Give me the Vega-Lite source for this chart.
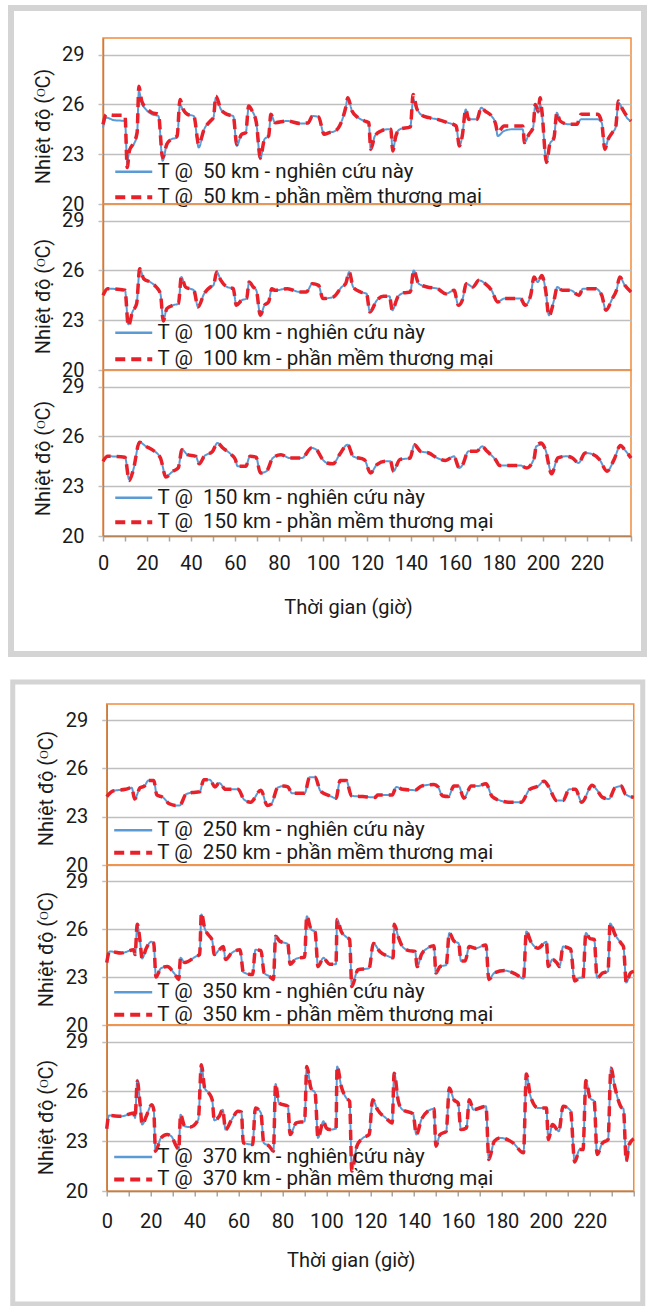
{
"$schema": "https://vega.github.io/schema/vega-lite/v6.json",
"autosize": {"type": "pad"},
"padding": {"left": 8, "top": 5, "right": 0, "bottom": 0},
"background": "white",
"config": {
  "font": "Roboto",
  "view": {"stroke": "#f28c3c", "strokeWidth": 1.5},
  "axis": {"labelFont": "Roboto", "labelFontSize": 20, "labelColor": "#1a1a1a", "titleFont": "Roboto", "titleFontSize": 20, "titleFontWeight": "normal", "titleColor": "#1a1a1a", "domainColor": "#b5835a", "domainWidth": 1.5, "tickWidth": 1.5, "tickSize": 5},
  "axisY": {"grid": true, "gridColor": "#bfbfbf", "gridWidth": 1.5, "tickColor": "#bfbfbf", "labelPadding": 14},
  "axisX": {"grid": false, "tickColor": "#a6a6a6", "labelFlush": false, "labelOverlap": false},
  "legend": {"orient": "none", "symbolType": "stroke", "symbolStrokeWidth": 3, "labelFont": "Roboto", "labelFontSize": 20.5, "labelColor": "#1a1a1a", "labelLimit": 400, "padding": 0}
},
"datasets": {
"d50": [
{"t":0,"a":24.6,"b":24.8},{"t":1.5,"a":25.2,"b":25.4},{"t":5,"a":25.05,"b":25.35},{"t":10,"a":25.0,"b":25.35},{"t":11,"a":22.5,"b":22.2},{"t":12,"a":23.3,"b":23.2},{"t":14,"a":23.6,"b":23.7},{"t":15.5,"a":24.2,"b":24.3},{"t":16.3,"a":26.8,"b":27.1},{"t":17.6,"a":26.1,"b":26.2},{"t":19.5,"a":25.7,"b":25.8},{"t":22.3,"a":25.4,"b":25.5},{"t":25.2,"a":25.3,"b":25.4},{"t":27.1,"a":22.6,"b":22.8},{"t":29,"a":23.6,"b":23.6},{"t":31,"a":23.9,"b":23.9},{"t":33.7,"a":24.0,"b":24.1},{"t":35,"a":26.0,"b":26.3},{"t":36.5,"a":25.6,"b":25.7},{"t":38.4,"a":25.4,"b":25.4},{"t":41.3,"a":25.3,"b":25.3},{"t":43.5,"a":23.4,"b":23.6},{"t":46,"a":24.5,"b":24.5},{"t":48.8,"a":25.0,"b":25.0},{"t":50.2,"a":25.2,"b":25.2},{"t":51.3,"a":26.4,"b":26.5},{"t":53.6,"a":25.7,"b":25.7},{"t":56.4,"a":25.4,"b":25.4},{"t":59.2,"a":25.3,"b":25.3},{"t":60.8,"a":23.5,"b":23.6},{"t":63,"a":24.2,"b":24.2},{"t":64.9,"a":24.3,"b":24.3},{"t":66.2,"a":25.8,"b":25.9},{"t":67.8,"a":25.6,"b":25.6},{"t":69.7,"a":24.9,"b":24.9},{"t":71.5,"a":22.7,"b":22.8},{"t":73.4,"a":23.9,"b":23.9},{"t":75.3,"a":24.1,"b":24.1},{"t":76.3,"a":25.4,"b":25.4},{"t":78.2,"a":24.9,"b":24.9},{"t":83.8,"a":25.0,"b":25.0},{"t":89.5,"a":24.85,"b":24.85},{"t":93.3,"a":24.85,"b":24.9},{"t":95.2,"a":25.3,"b":25.3},{"t":98,"a":25.25,"b":25.25},{"t":100.5,"a":24.2,"b":24.2},{"t":102.8,"a":24.3,"b":24.3},{"t":105.6,"a":24.4,"b":24.4},{"t":110.3,"a":25.8,"b":25.8},{"t":111.3,"a":26.4,"b":26.4},{"t":113.2,"a":25.6,"b":25.6},{"t":116,"a":25.2,"b":25.2},{"t":118.9,"a":25.0,"b":25.0},{"t":120.8,"a":24.9,"b":24.9},{"t":121.7,"a":23.3,"b":23.3},{"t":123.6,"a":24.1,"b":24.1},{"t":126.4,"a":24.4,"b":24.4},{"t":129.3,"a":24.5,"b":24.5},{"t":130.8,"a":24.5,"b":24.5},{"t":131.7,"a":23.2,"b":23.2},{"t":133.1,"a":24.1,"b":24.1},{"t":134.9,"a":24.5,"b":24.5},{"t":139.7,"a":24.65,"b":24.65},{"t":141,"a":26.3,"b":26.6},{"t":142.5,"a":25.8,"b":25.8},{"t":144.4,"a":25.4,"b":25.4},{"t":148.2,"a":25.2,"b":25.2},{"t":152,"a":25.1,"b":25.1},{"t":156.7,"a":24.9,"b":24.9},{"t":160.5,"a":24.7,"b":24.7},{"t":162,"a":23.5,"b":23.5},{"t":163.3,"a":24.1,"b":24.1},{"t":164.9,"a":25.7,"b":25.7},{"t":166.2,"a":25.1,"b":25.1},{"t":170,"a":25.1,"b":25.1},{"t":171.9,"a":25.8,"b":25.8},{"t":173.7,"a":25.6,"b":25.6},{"t":176.6,"a":25.3,"b":25.3},{"t":178.5,"a":24.8,"b":24.8},{"t":179.4,"a":24.1,"b":24.3},{"t":182.3,"a":24.4,"b":24.7},{"t":186.1,"a":24.5,"b":24.7},{"t":190.8,"a":24.5,"b":24.7},{"t":191.6,"a":23.7,"b":23.7},{"t":193.6,"a":24.2,"b":24.2},{"t":195.5,"a":24.6,"b":24.6},{"t":196.5,"a":26.0,"b":26.0},{"t":197.8,"a":25.5,"b":25.6},{"t":198.7,"a":26.0,"b":26.4},{"t":199.5,"a":25.4,"b":25.6},{"t":201.6,"a":22.5,"b":22.5},{"t":203.1,"a":23.6,"b":23.6},{"t":205,"a":24.0,"b":24.0},{"t":206.3,"a":25.5,"b":25.5},{"t":207.8,"a":25.0,"b":25.0},{"t":211.6,"a":24.8,"b":24.8},{"t":215.4,"a":24.8,"b":24.8},{"t":217.3,"a":25.1,"b":25.4},{"t":224.9,"a":25.1,"b":25.4},{"t":226.7,"a":24.9,"b":24.9},{"t":228.1,"a":23.3,"b":23.3},{"t":229.6,"a":23.9,"b":23.9},{"t":231.5,"a":24.3,"b":24.3},{"t":233,"a":24.6,"b":24.6},{"t":234.3,"a":26.1,"b":26.2},{"t":236.2,"a":25.7,"b":25.7},{"t":238.1,"a":25.2,"b":25.3},{"t":240,"a":25.0,"b":25.0}
],
"d100": [
{"t":0,"a":24.5,"b":24.5},{"t":2.1,"a":24.9,"b":24.9},{"t":10,"a":24.8,"b":24.8},{"t":11.5,"a":22.75,"b":22.65},{"t":13.4,"a":23.5,"b":23.5},{"t":15.3,"a":24.0,"b":24.0},{"t":16.7,"a":26.1,"b":26.1},{"t":18.5,"a":25.5,"b":25.5},{"t":21.4,"a":25.3,"b":25.3},{"t":24.2,"a":25.0,"b":25.0},{"t":26.1,"a":24.6,"b":24.6},{"t":27.4,"a":23.0,"b":22.95},{"t":29,"a":23.7,"b":23.7},{"t":31.8,"a":23.9,"b":23.9},{"t":34.3,"a":24.0,"b":24.0},{"t":35.6,"a":25.6,"b":25.6},{"t":37.5,"a":25.0,"b":25.0},{"t":41.3,"a":24.8,"b":24.8},{"t":43.2,"a":23.8,"b":23.8},{"t":46,"a":24.6,"b":24.6},{"t":48.8,"a":25.0,"b":25.0},{"t":50.2,"a":25.1,"b":25.1},{"t":51.7,"a":25.9,"b":25.9},{"t":53.6,"a":25.4,"b":25.4},{"t":56.4,"a":25.0,"b":25.0},{"t":59.2,"a":24.9,"b":24.9},{"t":60.6,"a":23.9,"b":23.9},{"t":63,"a":24.2,"b":24.2},{"t":65.3,"a":24.3,"b":24.3},{"t":66.4,"a":25.3,"b":25.3},{"t":68.3,"a":25.0,"b":25.0},{"t":69.7,"a":24.8,"b":24.8},{"t":71.5,"a":23.3,"b":23.3},{"t":73.4,"a":23.9,"b":23.9},{"t":75.3,"a":24.1,"b":24.1},{"t":76.7,"a":24.9,"b":24.9},{"t":78.2,"a":24.8,"b":24.8},{"t":83.8,"a":24.9,"b":24.9},{"t":89.5,"a":24.7,"b":24.7},{"t":92.4,"a":24.7,"b":24.7},{"t":95.2,"a":25.2,"b":25.2},{"t":98,"a":25.1,"b":25.1},{"t":99.9,"a":24.3,"b":24.3},{"t":104.7,"a":24.4,"b":24.4},{"t":108.5,"a":25.0,"b":25.0},{"t":110.3,"a":25.2,"b":25.2},{"t":111.9,"a":25.9,"b":25.9},{"t":113.7,"a":25.0,"b":25.0},{"t":117,"a":24.7,"b":24.7},{"t":119.8,"a":24.6,"b":24.6},{"t":121.3,"a":23.5,"b":23.5},{"t":124.5,"a":24.2,"b":24.2},{"t":127.4,"a":24.45,"b":24.45},{"t":130.2,"a":24.45,"b":24.45},{"t":131.5,"a":23.6,"b":23.6},{"t":134,"a":24.4,"b":24.4},{"t":136.8,"a":24.65,"b":24.65},{"t":139.7,"a":24.7,"b":24.7},{"t":141.2,"a":26.0,"b":26.0},{"t":143.5,"a":25.2,"b":25.2},{"t":147.3,"a":25.0,"b":25.0},{"t":152,"a":24.9,"b":24.9},{"t":155.8,"a":24.6,"b":24.6},{"t":159.6,"a":24.8,"b":24.8},{"t":161.5,"a":23.9,"b":23.9},{"t":163.3,"a":24.2,"b":24.2},{"t":165.2,"a":25.2,"b":25.2},{"t":168.1,"a":25.0,"b":25.0},{"t":170.9,"a":25.4,"b":25.4},{"t":173.7,"a":25.2,"b":25.2},{"t":176.6,"a":24.8,"b":24.8},{"t":179.4,"a":24.1,"b":24.1},{"t":182.3,"a":24.3,"b":24.3},{"t":189.8,"a":24.3,"b":24.3},{"t":191.9,"a":23.9,"b":23.9},{"t":194.4,"a":24.5,"b":24.5},{"t":195.9,"a":25.6,"b":25.6},{"t":197.6,"a":25.3,"b":25.3},{"t":199.5,"a":25.7,"b":25.7},{"t":201.2,"a":24.8,"b":24.8},{"t":202.7,"a":23.3,"b":23.25},{"t":205,"a":24.2,"b":24.2},{"t":206.5,"a":25.0,"b":25.0},{"t":208.8,"a":24.8,"b":24.8},{"t":212.6,"a":24.8,"b":24.8},{"t":216.3,"a":24.5,"b":24.5},{"t":218.2,"a":24.9,"b":24.9},{"t":223.9,"a":24.9,"b":24.9},{"t":226.7,"a":24.5,"b":24.5},{"t":228.6,"a":23.6,"b":23.6},{"t":231.5,"a":24.3,"b":24.3},{"t":233.4,"a":24.8,"b":24.8},{"t":234.9,"a":25.6,"b":25.6},{"t":237.2,"a":25.1,"b":25.1},{"t":240,"a":24.7,"b":24.7}
],
"d150": [
{"t":0,"a":24.5,"b":24.5},{"t":2.1,"a":24.8,"b":24.8},{"t":10,"a":24.75,"b":24.75},{"t":11.9,"a":23.4,"b":23.35},{"t":13.8,"a":24.0,"b":24.0},{"t":16.6,"a":25.65,"b":25.65},{"t":19.5,"a":25.4,"b":25.4},{"t":22.3,"a":25.2,"b":25.2},{"t":26.1,"a":24.7,"b":24.7},{"t":28.6,"a":23.6,"b":23.55},{"t":31.8,"a":23.9,"b":23.9},{"t":34.2,"a":24.1,"b":24.1},{"t":35.9,"a":25.2,"b":25.2},{"t":38.4,"a":24.9,"b":24.9},{"t":42.2,"a":24.8,"b":24.8},{"t":43.7,"a":24.35,"b":24.35},{"t":46,"a":24.8,"b":24.8},{"t":49.8,"a":25.1,"b":25.1},{"t":52,"a":25.6,"b":25.6},{"t":54.5,"a":25.3,"b":25.3},{"t":58.3,"a":24.9,"b":24.9},{"t":60.2,"a":24.6,"b":24.6},{"t":61.1,"a":24.2,"b":24.2},{"t":64.9,"a":24.2,"b":24.2},{"t":66.8,"a":24.8,"b":24.8},{"t":69.6,"a":24.75,"b":24.75},{"t":71.5,"a":23.8,"b":23.8},{"t":74.3,"a":23.9,"b":23.9},{"t":77.2,"a":24.7,"b":24.7},{"t":80.9,"a":24.9,"b":24.9},{"t":84.8,"a":24.7,"b":24.7},{"t":90.4,"a":24.7,"b":24.7},{"t":94.8,"a":25.3,"b":25.3},{"t":97,"a":25.2,"b":25.2},{"t":99.9,"a":24.6,"b":24.6},{"t":101.8,"a":24.4,"b":24.4},{"t":104.6,"a":24.35,"b":24.35},{"t":107.5,"a":24.9,"b":24.9},{"t":111.2,"a":25.5,"b":25.5},{"t":113.7,"a":24.8,"b":24.8},{"t":118.8,"a":24.6,"b":24.6},{"t":121.6,"a":23.8,"b":23.8},{"t":124.5,"a":24.3,"b":24.3},{"t":128.3,"a":24.5,"b":24.5},{"t":130.7,"a":24.5,"b":24.5},{"t":132,"a":23.9,"b":23.9},{"t":134.9,"a":24.6,"b":24.6},{"t":139.6,"a":24.7,"b":24.7},{"t":141.5,"a":25.5,"b":25.5},{"t":144.3,"a":25.1,"b":25.1},{"t":148.1,"a":25.0,"b":25.0},{"t":151.9,"a":24.7,"b":24.7},{"t":155.7,"a":24.55,"b":24.55},{"t":159.5,"a":24.8,"b":24.8},{"t":161.9,"a":24.1,"b":24.1},{"t":163.3,"a":24.25,"b":24.25},{"t":166.1,"a":25.1,"b":25.1},{"t":169.9,"a":25.1,"b":25.1},{"t":172.3,"a":25.4,"b":25.4},{"t":174.6,"a":25.1,"b":25.1},{"t":178.4,"a":24.6,"b":24.6},{"t":180.3,"a":24.25,"b":24.25},{"t":189.7,"a":24.25,"b":24.25},{"t":192.6,"a":24.1,"b":24.1},{"t":196,"a":24.7,"b":24.7},{"t":196.9,"a":25.4,"b":25.4},{"t":199.2,"a":25.5,"b":25.6},{"t":201.1,"a":25.2,"b":25.2},{"t":203.9,"a":23.8,"b":23.75},{"t":206.8,"a":24.7,"b":24.7},{"t":210.5,"a":24.8,"b":24.8},{"t":213.4,"a":24.7,"b":24.7},{"t":216.2,"a":24.4,"b":24.4},{"t":219.1,"a":25.0,"b":25.0},{"t":221.9,"a":24.95,"b":24.95},{"t":225.7,"a":24.6,"b":24.6},{"t":229.1,"a":23.9,"b":23.9},{"t":232.3,"a":24.6,"b":24.6},{"t":235.2,"a":25.45,"b":25.45},{"t":237.1,"a":25.2,"b":25.2},{"t":240,"a":24.7,"b":24.7}
],
"d250": [
{"t":0,"a":24.25,"b":24.25},{"t":2.8,"a":24.6,"b":24.6},{"t":8.5,"a":24.7,"b":24.7},{"t":11.4,"a":24.8,"b":24.8},{"t":12.7,"a":24.1,"b":24.1},{"t":15.2,"a":24.8,"b":24.8},{"t":17.1,"a":24.9,"b":24.9},{"t":19,"a":25.25,"b":25.25},{"t":21.4,"a":25.25,"b":25.25},{"t":22.8,"a":24.35,"b":24.35},{"t":25.6,"a":24.2,"b":24.2},{"t":28.5,"a":23.8,"b":23.8},{"t":31.3,"a":23.7,"b":23.7},{"t":33.2,"a":23.7,"b":23.7},{"t":36.1,"a":24.4,"b":24.4},{"t":38.9,"a":24.5,"b":24.5},{"t":42.3,"a":24.55,"b":24.55},{"t":44.2,"a":25.3,"b":25.3},{"t":46.9,"a":25.3,"b":25.3},{"t":49.3,"a":24.85,"b":24.85},{"t":51.2,"a":25.1,"b":25.1},{"t":54.1,"a":24.7,"b":24.7},{"t":59.8,"a":24.7,"b":24.7},{"t":62.6,"a":24.05,"b":24.05},{"t":65.5,"a":23.9,"b":23.9},{"t":70.2,"a":24.65,"b":24.65},{"t":73.1,"a":23.7,"b":23.7},{"t":75,"a":23.8,"b":23.8},{"t":77.8,"a":24.8,"b":24.8},{"t":80.6,"a":24.9,"b":24.9},{"t":82.5,"a":24.85,"b":24.85},{"t":84.4,"a":24.45,"b":24.45},{"t":90.1,"a":24.45,"b":24.45},{"t":92.4,"a":25.45,"b":25.45},{"t":94.9,"a":25.45,"b":25.45},{"t":97.3,"a":24.6,"b":24.6},{"t":101.5,"a":24.3,"b":24.3},{"t":104.4,"a":24.15,"b":24.15},{"t":106.3,"a":25.25,"b":25.25},{"t":109.1,"a":25.25,"b":25.25},{"t":111.4,"a":24.3,"b":24.3},{"t":116.7,"a":24.25,"b":24.25},{"t":122.4,"a":24.2,"b":24.2},{"t":123.3,"a":24.35,"b":24.35},{"t":130,"a":24.35,"b":24.35},{"t":131.9,"a":24.85,"b":24.85},{"t":134.7,"a":24.7,"b":24.7},{"t":140.4,"a":24.65,"b":24.65},{"t":143.3,"a":24.9,"b":24.9},{"t":149,"a":25.0,"b":25.0},{"t":150.9,"a":24.85,"b":24.85},{"t":152.8,"a":24.3,"b":24.3},{"t":155.6,"a":24.25,"b":24.25},{"t":158.1,"a":24.9,"b":24.9},{"t":160.3,"a":24.9,"b":24.9},{"t":162.6,"a":24.15,"b":24.15},{"t":166,"a":24.9,"b":24.9},{"t":168.9,"a":24.9,"b":24.9},{"t":172.7,"a":25.05,"b":25.05},{"t":175.5,"a":24.25,"b":24.25},{"t":179.3,"a":24.0,"b":24.0},{"t":183.1,"a":23.9,"b":23.9},{"t":188.8,"a":23.9,"b":23.9},{"t":192.6,"a":24.7,"b":24.7},{"t":196.4,"a":24.9,"b":24.9},{"t":199.2,"a":25.2,"b":25.2},{"t":201.1,"a":24.9,"b":24.9},{"t":204.9,"a":24.0,"b":24.0},{"t":207.8,"a":24.0,"b":24.0},{"t":210.6,"a":24.7,"b":24.7},{"t":213.5,"a":24.7,"b":24.7},{"t":216.3,"a":23.9,"b":23.9},{"t":221.1,"a":24.95,"b":24.95},{"t":223,"a":24.7,"b":24.7},{"t":225.8,"a":24.2,"b":24.2},{"t":228.7,"a":24.1,"b":24.1},{"t":231.5,"a":24.8,"b":24.8},{"t":234.3,"a":24.9,"b":24.9},{"t":236.2,"a":24.4,"b":24.4},{"t":240,"a":24.2,"b":24.2}
],
"d350": [
{"t":0,"a":23.9,"b":23.9},{"t":1.3,"a":24.6,"b":24.6},{"t":6.6,"a":24.5,"b":24.5},{"t":12.3,"a":24.7,"b":24.7},{"t":12.9,"a":24.4,"b":24.4},{"t":13.9,"a":26.2,"b":26.3},{"t":15.2,"a":25.2,"b":25.2},{"t":16.1,"a":24.15,"b":24.15},{"t":18,"a":24.8,"b":24.8},{"t":20.3,"a":25.2,"b":25.2},{"t":21.4,"a":25.1,"b":25.1},{"t":22.4,"a":23.0,"b":23.0},{"t":24.7,"a":23.55,"b":23.55},{"t":27.5,"a":23.65,"b":23.65},{"t":30.9,"a":23.2,"b":23.2},{"t":32.8,"a":22.9,"b":22.85},{"t":33.6,"a":24.2,"b":24.2},{"t":35.5,"a":23.9,"b":23.9},{"t":40.8,"a":24.3,"b":24.3},{"t":42.3,"a":24.4,"b":24.4},{"t":43.1,"a":26.9,"b":27.0},{"t":44.6,"a":26.05,"b":26.05},{"t":46.5,"a":25.6,"b":25.6},{"t":48,"a":25.3,"b":25.3},{"t":49,"a":24.4,"b":24.4},{"t":51.2,"a":24.7,"b":24.7},{"t":53.1,"a":24.9,"b":24.9},{"t":54.1,"a":24.1,"b":24.1},{"t":56.9,"a":24.5,"b":24.5},{"t":60.7,"a":24.7,"b":24.7},{"t":62.2,"a":23.3,"b":23.3},{"t":66.4,"a":23.15,"b":23.15},{"t":67.7,"a":24.7,"b":24.7},{"t":70.2,"a":24.65,"b":24.65},{"t":71.7,"a":23.25,"b":23.25},{"t":74,"a":23.05,"b":23.05},{"t":75.9,"a":22.85,"b":22.85},{"t":76.9,"a":25.55,"b":25.55},{"t":78.7,"a":25.25,"b":25.25},{"t":82.5,"a":25.05,"b":25.05},{"t":83.5,"a":23.8,"b":23.8},{"t":86.3,"a":24.15,"b":24.15},{"t":90.1,"a":24.25,"b":24.25},{"t":91.1,"a":26.8,"b":26.8},{"t":93,"a":26.0,"b":26.0},{"t":94.9,"a":25.8,"b":25.8},{"t":96.2,"a":23.65,"b":23.65},{"t":98.7,"a":24.2,"b":24.2},{"t":100,"a":24.0,"b":24.0},{"t":101.5,"a":23.8,"b":23.8},{"t":104.4,"a":23.8,"b":23.8},{"t":104.9,"a":26.6,"b":26.6},{"t":106.8,"a":25.85,"b":25.85},{"t":109.1,"a":25.5,"b":25.5},{"t":110.6,"a":25.35,"b":25.35},{"t":111.6,"a":22.5,"b":22.4},{"t":114.4,"a":23.45,"b":23.45},{"t":119.5,"a":23.55,"b":23.55},{"t":121.4,"a":25.1,"b":25.1},{"t":124.3,"a":24.6,"b":24.6},{"t":128.1,"a":24.3,"b":24.3},{"t":130.4,"a":24.2,"b":24.2},{"t":130.9,"a":26.3,"b":26.3},{"t":132.8,"a":25.5,"b":25.5},{"t":134.7,"a":24.9,"b":24.9},{"t":137.6,"a":24.65,"b":24.65},{"t":140.4,"a":24.6,"b":24.6},{"t":141.4,"a":23.65,"b":23.65},{"t":143.3,"a":24.4,"b":24.4},{"t":146.1,"a":24.8,"b":24.8},{"t":149,"a":24.95,"b":24.95},{"t":149.9,"a":23.25,"b":23.25},{"t":151.8,"a":23.65,"b":23.65},{"t":154.6,"a":23.75,"b":23.75},{"t":156,"a":25.75,"b":25.75},{"t":158.1,"a":25.25,"b":25.25},{"t":160.3,"a":25.1,"b":25.1},{"t":161.3,"a":24.0,"b":24.0},{"t":163.2,"a":24.0,"b":24.0},{"t":165.1,"a":24.9,"b":24.9},{"t":167.9,"a":24.8,"b":24.8},{"t":172.7,"a":25.0,"b":25.0},{"t":174,"a":22.85,"b":22.85},{"t":176.5,"a":23.25,"b":23.25},{"t":181.2,"a":23.4,"b":23.4},{"t":186,"a":23.2,"b":23.2},{"t":189.8,"a":22.9,"b":22.9},{"t":191.1,"a":25.85,"b":25.85},{"t":193,"a":25.25,"b":25.25},{"t":196.4,"a":24.8,"b":24.8},{"t":200.2,"a":25.2,"b":25.2},{"t":201.1,"a":23.65,"b":23.65},{"t":203,"a":24.1,"b":24.1},{"t":204.9,"a":23.9,"b":23.9},{"t":206.2,"a":23.65,"b":23.65},{"t":207.8,"a":24.9,"b":24.9},{"t":211.2,"a":24.75,"b":24.75},{"t":213.1,"a":22.75,"b":22.75},{"t":215.4,"a":22.95,"b":22.95},{"t":216.9,"a":22.95,"b":22.95},{"t":218.2,"a":25.75,"b":25.75},{"t":220.1,"a":25.4,"b":25.4},{"t":222,"a":25.35,"b":25.35},{"t":223.3,"a":22.95,"b":22.95},{"t":225.8,"a":23.25,"b":23.25},{"t":228.3,"a":23.35,"b":23.35},{"t":229.2,"a":26.35,"b":26.35},{"t":231.5,"a":25.65,"b":25.65},{"t":234.3,"a":25.1,"b":25.1},{"t":235.3,"a":24.9,"b":24.9},{"t":236.6,"a":22.65,"b":22.65},{"t":238.5,"a":23.25,"b":23.25},{"t":240,"a":23.35,"b":23.35}
],
"d370": [
{"t":0,"a":23.75,"b":23.75},{"t":1,"a":24.55,"b":24.55},{"t":6.6,"a":24.5,"b":24.5},{"t":12.3,"a":24.7,"b":24.7},{"t":12.9,"a":24.4,"b":24.4},{"t":13.9,"a":26.7,"b":26.6},{"t":15.2,"a":25.2,"b":25.2},{"t":16.1,"a":24.0,"b":24.0},{"t":18,"a":24.5,"b":24.5},{"t":20.5,"a":25.2,"b":25.2},{"t":21.4,"a":24.9,"b":24.9},{"t":22.2,"a":22.4,"b":22.4},{"t":24.7,"a":23.2,"b":23.2},{"t":27.5,"a":23.4,"b":23.4},{"t":29.4,"a":23.3,"b":23.3},{"t":31.3,"a":22.8,"b":22.8},{"t":32.8,"a":22.5,"b":22.5},{"t":33.6,"a":24.6,"b":24.6},{"t":35.5,"a":23.9,"b":23.9},{"t":38,"a":23.85,"b":23.85},{"t":41.7,"a":24.3,"b":24.3},{"t":43.1,"a":27.6,"b":27.6},{"t":44.6,"a":26.2,"b":26.2},{"t":46.5,"a":25.9,"b":25.9},{"t":48,"a":25.5,"b":25.5},{"t":49,"a":24.25,"b":24.25},{"t":51.2,"a":24.5,"b":24.5},{"t":52.8,"a":24.9,"b":24.9},{"t":54.1,"a":23.7,"b":23.7},{"t":56.9,"a":24.3,"b":24.3},{"t":59.8,"a":24.8,"b":24.8},{"t":61.3,"a":24.75,"b":24.75},{"t":62.2,"a":22.9,"b":22.9},{"t":66.4,"a":22.8,"b":22.8},{"t":67.7,"a":25.0,"b":25.0},{"t":70.2,"a":24.7,"b":24.7},{"t":71.5,"a":22.9,"b":22.9},{"t":74,"a":22.7,"b":22.7},{"t":75.9,"a":22.4,"b":22.4},{"t":76.9,"a":26.45,"b":26.45},{"t":78.4,"a":25.3,"b":25.3},{"t":82.5,"a":25.1,"b":25.1},{"t":83.5,"a":23.4,"b":23.4},{"t":86.3,"a":24.1,"b":24.1},{"t":90.1,"a":24.2,"b":24.2},{"t":91.1,"a":27.5,"b":27.5},{"t":93,"a":26.2,"b":26.2},{"t":94.9,"a":25.9,"b":25.9},{"t":96.2,"a":23.2,"b":23.2},{"t":98.7,"a":24.2,"b":24.2},{"t":100,"a":23.8,"b":23.8},{"t":101.5,"a":23.7,"b":23.7},{"t":104.4,"a":23.75,"b":23.75},{"t":104.9,"a":27.5,"b":27.5},{"t":106.8,"a":26.3,"b":26.3},{"t":109.1,"a":25.6,"b":25.6},{"t":110.6,"a":25.4,"b":25.4},{"t":111.6,"a":21.3,"b":21.2},{"t":113.9,"a":22.7,"b":22.7},{"t":116.7,"a":23.2,"b":23.2},{"t":119.5,"a":23.4,"b":23.4},{"t":121.1,"a":25.5,"b":25.5},{"t":123.3,"a":24.9,"b":24.9},{"t":127.1,"a":24.4,"b":24.4},{"t":130,"a":24.1,"b":24.1},{"t":130.9,"a":27.1,"b":27.1},{"t":132.8,"a":25.4,"b":25.4},{"t":134.7,"a":24.9,"b":24.9},{"t":139.5,"a":24.65,"b":24.65},{"t":141,"a":23.4,"b":23.4},{"t":143.3,"a":24.3,"b":24.3},{"t":146.1,"a":24.8,"b":24.8},{"t":149,"a":24.95,"b":24.95},{"t":149.9,"a":22.7,"b":22.7},{"t":151.8,"a":23.4,"b":23.4},{"t":154.6,"a":23.6,"b":23.6},{"t":156,"a":26.2,"b":26.2},{"t":158.1,"a":25.5,"b":25.5},{"t":160,"a":25.3,"b":25.3},{"t":161.3,"a":23.7,"b":23.7},{"t":163.8,"a":23.8,"b":23.8},{"t":165.1,"a":25.5,"b":25.5},{"t":167,"a":24.9,"b":24.9},{"t":172.7,"a":25.1,"b":25.1},{"t":174,"a":21.9,"b":21.9},{"t":176.5,"a":23.0,"b":23.0},{"t":179.3,"a":23.2,"b":23.2},{"t":185,"a":22.9,"b":22.9},{"t":189.8,"a":22.3,"b":22.3},{"t":191.1,"a":27.05,"b":27.05},{"t":193,"a":25.7,"b":25.7},{"t":196.4,"a":25.0,"b":25.0},{"t":200.2,"a":25.0,"b":25.0},{"t":201.1,"a":23.1,"b":23.1},{"t":203,"a":24.0,"b":24.0},{"t":205.9,"a":23.6,"b":23.6},{"t":207.8,"a":25.1,"b":25.1},{"t":211.2,"a":24.85,"b":24.85},{"t":213.1,"a":21.8,"b":21.75},{"t":215.4,"a":22.5,"b":22.5},{"t":216.9,"a":22.5,"b":22.5},{"t":218.2,"a":26.65,"b":26.65},{"t":220.1,"a":25.6,"b":25.6},{"t":222,"a":25.4,"b":25.4},{"t":223.3,"a":22.2,"b":22.2},{"t":225.8,"a":22.9,"b":22.9},{"t":228.3,"a":23.1,"b":23.1},{"t":229.6,"a":27.4,"b":27.4},{"t":231.5,"a":26.2,"b":26.2},{"t":234.3,"a":25.05,"b":25.05},{"t":235.3,"a":24.95,"b":24.95},{"t":236.6,"a":21.8,"b":21.8},{"t":237.9,"a":22.8,"b":22.8},{"t":240,"a":23.15,"b":23.15}
]
},
"spacing": 22,
"center": true,
"vconcat": [
{
"spacing": -615,
"align": "none",
"hconcat": [
{"width": 633, "height": 646, "data": {"values": []}, "mark": "rule", "encoding": {}, "view": {"fill": "white", "stroke": "#d4d4d4", "strokeWidth": 6}},
{"spacing": 0, "bounds": "flush", "resolve": {"scale": {"color": "independent", "strokeDash": "independent"}}, "vconcat": [
{"width": 528, "height": 30, "data": {"values": []}, "mark": "rule", "encoding": {}, "view": {"stroke": null}},
{"width": 528, "height": 166, "data": {"name": "d50"}, "transform": [{"fold": ["a","b"], "as": ["s","v"]}],
 "encoding": {
  "x": {"field": "t", "type": "quantitative", "scale": {"domain": [0,240], "nice": false, "zero": false}, "axis": null},
  "y": {"field": "v", "type": "quantitative", "scale": {"domain": [20,30], "nice": false, "zero": false}, "axis": {"values": [20,23,26,29], "title": "Nhiệt độ (ᴼC)", "titleX": -60, "titleY": 88, "titleAngle": -90, "titleAlign": "center", "titleBaseline": "middle"}},
  "color": {"field": "s", "type": "nominal", "scale": {"domain": ["a","b"], "range": ["#5b9bd5","#e8202a"]}, "legend": {"title": null, "legendX": 20.5, "legendY": 123.5, "symbolSize": 1369, "rowPadding": 4.5, "labelOffset": 13.5, "labelExpr": "datum.value == 'a' ? 'T @\u00a0 50 km - nghiên cứu này' : 'T @\u00a0 50 km - phần mềm thương mại'", "encode": {"symbols": {"update": {"strokeWidth": {"signal": "datum.value == 'a' ? 2.5 : 4"}}}}}},
  "strokeDash": {"field": "s", "type": "nominal", "scale": {"domain": ["a","b"], "range": [[1,0],[10,6]]}, "legend": {"title": null, "legendX": 20.5, "legendY": 123.5, "symbolSize": 1369, "rowPadding": 4.5, "labelOffset": 13.5, "labelExpr": "datum.value == 'a' ? 'T @\u00a0 50 km - nghiên cứu này' : 'T @\u00a0 50 km - phần mềm thương mại'", "encode": {"symbols": {"update": {"strokeWidth": {"signal": "datum.value == 'a' ? 2.5 : 4"}}}}}}
 },
 "layer": [
  {"transform": [{"filter": "datum.s == 'a'"}], "mark": {"type": "line", "strokeWidth": 2, "interpolate": "monotone"}},
  {"transform": [{"filter": "datum.s == 'b'"}], "mark": {"type": "line", "strokeWidth": 3.5, "interpolate": "monotone"}}
 ]},
{"width": 528, "height": 166, "data": {"name": "d100"}, "transform": [{"fold": ["a","b"], "as": ["s","v"]}],
 "encoding": {
  "x": {"field": "t", "type": "quantitative", "scale": {"domain": [0,240], "nice": false, "zero": false}, "axis": null},
  "y": {"field": "v", "type": "quantitative", "scale": {"domain": [20,30], "nice": false, "zero": false}, "axis": {"values": [20,23,26,29], "title": "Nhiệt độ (ᴼC)", "titleX": -60, "titleY": 92, "titleAngle": -90, "titleAlign": "center", "titleBaseline": "middle"}},
  "color": {"field": "s", "type": "nominal", "scale": {"domain": ["a","b"], "range": ["#5b9bd5","#e8202a"]}, "legend": {"title": null, "legendX": 20.5, "legendY": 118.5, "symbolSize": 1369, "rowPadding": 5.5, "labelOffset": 13.5, "labelExpr": "datum.value == 'a' ? 'T @\u00a0 100 km - nghiên cứu này' : 'T @\u00a0 100 km - phần mềm thương mại'", "encode": {"symbols": {"update": {"strokeWidth": {"signal": "datum.value == 'a' ? 2.5 : 4"}}}}}},
  "strokeDash": {"field": "s", "type": "nominal", "scale": {"domain": ["a","b"], "range": [[1,0],[10,6]]}, "legend": {"title": null, "legendX": 20.5, "legendY": 118.5, "symbolSize": 1369, "rowPadding": 5.5, "labelOffset": 13.5, "labelExpr": "datum.value == 'a' ? 'T @\u00a0 100 km - nghiên cứu này' : 'T @\u00a0 100 km - phần mềm thương mại'", "encode": {"symbols": {"update": {"strokeWidth": {"signal": "datum.value == 'a' ? 2.5 : 4"}}}}}}
 },
 "layer": [
  {"transform": [{"filter": "datum.s == 'a'"}], "mark": {"type": "line", "strokeWidth": 2, "interpolate": "monotone"}},
  {"transform": [{"filter": "datum.s == 'b'"}], "mark": {"type": "line", "strokeWidth": 3.5, "interpolate": "monotone"}}
 ]},
{"width": 528, "height": 166, "data": {"name": "d150"}, "transform": [{"fold": ["a","b"], "as": ["s","v"]}],
 "encoding": {
  "x": {"field": "t", "type": "quantitative", "scale": {"domain": [0,240], "nice": false, "zero": false}, "axis": {"values": [0,10,20,30,40,50,60,70,80,90,100,110,120,130,140,150,160,170,180,190,200,210,220,230,240], "labelExpr": "datum.value % 20 == 0 && datum.value < 240 ? datum.label : ''", "labelPadding": 12, "title": "Thời  gian (giờ)", "titleX": 245, "titleY": 71, "titleAlign": "center", "titleBaseline": "middle"}},
  "y": {"field": "v", "type": "quantitative", "scale": {"domain": [20,30], "nice": false, "zero": false}, "axis": {"values": [20,23,26,29], "title": "Nhiệt độ (ᴼC)", "titleX": -60, "titleY": 88, "titleAngle": -90, "titleAlign": "center", "titleBaseline": "middle"}},
  "color": {"field": "s", "type": "nominal", "scale": {"domain": ["a","b"], "range": ["#5b9bd5","#e8202a"]}, "legend": {"title": null, "legendX": 20.5, "legendY": 117.5, "symbolSize": 1369, "rowPadding": 3.5, "labelOffset": 13.5, "labelExpr": "datum.value == 'a' ? 'T @\u00a0 150 km - nghiên cứu này' : 'T @\u00a0 150 km - phần mềm thương mại'", "encode": {"symbols": {"update": {"strokeWidth": {"signal": "datum.value == 'a' ? 2.5 : 4"}}}}}},
  "strokeDash": {"field": "s", "type": "nominal", "scale": {"domain": ["a","b"], "range": [[1,0],[10,6]]}, "legend": {"title": null, "legendX": 20.5, "legendY": 117.5, "symbolSize": 1369, "rowPadding": 3.5, "labelOffset": 13.5, "labelExpr": "datum.value == 'a' ? 'T @\u00a0 150 km - nghiên cứu này' : 'T @\u00a0 150 km - phần mềm thương mại'", "encode": {"symbols": {"update": {"strokeWidth": {"signal": "datum.value == 'a' ? 2.5 : 4"}}}}}}
 },
 "layer": [
  {"transform": [{"filter": "datum.s == 'a'"}], "mark": {"type": "line", "strokeWidth": 2, "interpolate": "monotone"}},
  {"transform": [{"filter": "datum.s == 'b'"}], "mark": {"type": "line", "strokeWidth": 3.5, "interpolate": "monotone"}}
 ]}
]}
]
},
{
"spacing": -610,
"align": "none",
"hconcat": [
{"width": 630, "height": 622, "data": {"values": []}, "mark": "rule", "encoding": {}, "view": {"fill": "white", "stroke": "#d4d4d4", "strokeWidth": 5}},
{"spacing": 0, "bounds": "flush", "resolve": {"scale": {"color": "independent", "strokeDash": "independent"}}, "vconcat": [
{"width": 527, "height": 22, "data": {"values": []}, "mark": "rule", "encoding": {}, "view": {"stroke": null}},
{"width": 527, "height": 161, "data": {"name": "d250"}, "transform": [{"fold": ["a","b"], "as": ["s","v"]}],
 "encoding": {
  "x": {"field": "t", "type": "quantitative", "scale": {"domain": [0,240], "nice": false, "zero": false}, "axis": null},
  "y": {"field": "v", "type": "quantitative", "scale": {"domain": [20,30], "nice": false, "zero": false}, "axis": {"values": [20,23,26,29], "title": "Nhiệt độ (ᴼC)", "titleX": -60, "titleY": 84, "titleAngle": -90, "titleAlign": "center", "titleBaseline": "middle"}},
  "color": {"field": "s", "type": "nominal", "scale": {"domain": ["a","b"], "range": ["#5b9bd5","#e8202a"]}, "legend": {"title": null, "legendX": 16.2, "legendY": 116, "symbolSize": 1444, "rowPadding": 1.5, "labelOffset": 13.8, "labelExpr": "datum.value == 'a' ? 'T @\u00a0 250 km - nghiên cứu này' : 'T @\u00a0 250 km - phần mềm thương mại'", "encode": {"symbols": {"update": {"strokeWidth": {"signal": "datum.value == 'a' ? 2.5 : 4"}}}}}},
  "strokeDash": {"field": "s", "type": "nominal", "scale": {"domain": ["a","b"], "range": [[1,0],[10,6]]}, "legend": {"title": null, "legendX": 16.2, "legendY": 116, "symbolSize": 1444, "rowPadding": 1.5, "labelOffset": 13.8, "labelExpr": "datum.value == 'a' ? 'T @\u00a0 250 km - nghiên cứu này' : 'T @\u00a0 250 km - phần mềm thương mại'", "encode": {"symbols": {"update": {"strokeWidth": {"signal": "datum.value == 'a' ? 2.5 : 4"}}}}}}
 },
 "layer": [
  {"transform": [{"filter": "datum.s == 'a'"}], "mark": {"type": "line", "strokeWidth": 2, "interpolate": "monotone"}},
  {"transform": [{"filter": "datum.s == 'b'"}], "mark": {"type": "line", "strokeWidth": 3.5, "interpolate": "monotone"}}
 ]},
{"width": 527, "height": 160, "data": {"name": "d350"}, "transform": [{"fold": ["a","b"], "as": ["s","v"]}],
 "encoding": {
  "x": {"field": "t", "type": "quantitative", "scale": {"domain": [0,240], "nice": false, "zero": false}, "axis": null},
  "y": {"field": "v", "type": "quantitative", "scale": {"domain": [20,30], "nice": false, "zero": false}, "axis": {"values": [20,23,26,29], "title": "Nhiệt độ (ᴼC)", "titleX": -60, "titleY": 84, "titleAngle": -90, "titleAlign": "center", "titleBaseline": "middle"}},
  "color": {"field": "s", "type": "nominal", "scale": {"domain": ["a","b"], "range": ["#5b9bd5","#e8202a"]}, "legend": {"title": null, "legendX": 16.2, "legendY": 117, "symbolSize": 1444, "rowPadding": 1.5, "labelOffset": 13.8, "labelExpr": "datum.value == 'a' ? 'T @\u00a0 350 km - nghiên cứu này' : 'T @\u00a0 350 km - phần mềm thương mại'", "encode": {"symbols": {"update": {"strokeWidth": {"signal": "datum.value == 'a' ? 2.5 : 4"}}}}}},
  "strokeDash": {"field": "s", "type": "nominal", "scale": {"domain": ["a","b"], "range": [[1,0],[10,6]]}, "legend": {"title": null, "legendX": 16.2, "legendY": 117, "symbolSize": 1444, "rowPadding": 1.5, "labelOffset": 13.8, "labelExpr": "datum.value == 'a' ? 'T @\u00a0 350 km - nghiên cứu này' : 'T @\u00a0 350 km - phần mềm thương mại'", "encode": {"symbols": {"update": {"strokeWidth": {"signal": "datum.value == 'a' ? 2.5 : 4"}}}}}}
 },
 "layer": [
  {"transform": [{"filter": "datum.s == 'a'"}], "mark": {"type": "line", "strokeWidth": 2, "interpolate": "monotone"}},
  {"transform": [{"filter": "datum.s == 'b'"}], "mark": {"type": "line", "strokeWidth": 3.5, "interpolate": "monotone"}}
 ]},
{"width": 527, "height": 166, "data": {"name": "d370"}, "transform": [{"fold": ["a","b"], "as": ["s","v"]}],
 "encoding": {
  "x": {"field": "t", "type": "quantitative", "scale": {"domain": [0,240], "nice": false, "zero": false}, "axis": {"values": [0,10,20,30,40,50,60,70,80,90,100,110,120,130,140,150,160,170,180,190,200,210,220,230,240], "labelExpr": "datum.value % 20 == 0 && datum.value < 240 ? datum.label : ''", "labelPadding": 15, "title": "Thời  gian (giờ)", "titleX": 244, "titleY": 69, "titleAlign": "center", "titleBaseline": "middle"}},
  "y": {"field": "v", "type": "quantitative", "scale": {"domain": [20,30], "nice": false, "zero": false}, "axis": {"values": [20,23,26,29], "title": "Nhiệt độ (ᴼC)", "titleX": -60, "titleY": 92, "titleAngle": -90, "titleAlign": "center", "titleBaseline": "middle"}},
  "color": {"field": "s", "type": "nominal", "scale": {"domain": ["a","b"], "range": ["#5b9bd5","#e8202a"]}, "legend": {"title": null, "legendX": 16.2, "legendY": 121.7, "symbolSize": 1444, "rowPadding": 1.5, "labelOffset": 13.8, "labelExpr": "datum.value == 'a' ? 'T @\u00a0 370 km - nghiên cứu này' : 'T @\u00a0 370 km - phần mềm thương mại'", "encode": {"symbols": {"update": {"strokeWidth": {"signal": "datum.value == 'a' ? 2.5 : 4"}}}}}},
  "strokeDash": {"field": "s", "type": "nominal", "scale": {"domain": ["a","b"], "range": [[1,0],[10,6]]}, "legend": {"title": null, "legendX": 16.2, "legendY": 121.7, "symbolSize": 1444, "rowPadding": 1.5, "labelOffset": 13.8, "labelExpr": "datum.value == 'a' ? 'T @\u00a0 370 km - nghiên cứu này' : 'T @\u00a0 370 km - phần mềm thương mại'", "encode": {"symbols": {"update": {"strokeWidth": {"signal": "datum.value == 'a' ? 2.5 : 4"}}}}}}
 },
 "layer": [
  {"transform": [{"filter": "datum.s == 'a'"}], "mark": {"type": "line", "strokeWidth": 2, "interpolate": "monotone"}},
  {"transform": [{"filter": "datum.s == 'b'"}], "mark": {"type": "line", "strokeWidth": 3.5, "interpolate": "monotone"}}
 ]}
]}
]
}
]
}
